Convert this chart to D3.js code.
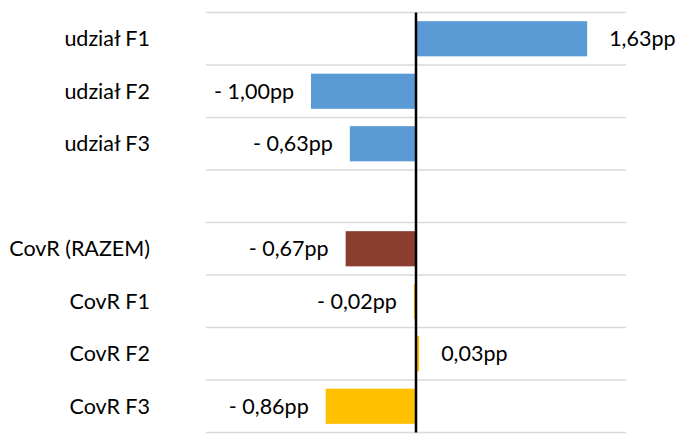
<!DOCTYPE html>
<html><head><meta charset="utf-8">
<script src="https://cdn.jsdelivr.net/npm/d3@7"></script>
<style>body{margin:0;background:#fff}svg{display:block}text{font-family:Lato,"Open Sans",sans-serif;fill:#000}</style>
</head><body>
<script>
const categories = ["udział F1","udział F2","udział F3","","CovR (RAZEM)","CovR F1","CovR F2","CovR F3"];
const values = [1.63,-1.00,-0.63,null,-0.67,-0.02,0.03,-0.86];
const labels = ["1,63pp","- 1,00pp","- 0,63pp","","- 0,67pp","- 0,02pp","0,03pp","- 0,86pp"];
const colors = ["#5B9BD5","#5B9BD5","#5B9BD5",null,"#8B3E2F","#FFC000","#FFC000","#FFC000"];

const W=678,H=434;
const svg=d3.select("body").append("svg").attr("width",W).attr("height",H);
const x=d3.scaleLinear().domain([-2,2]).range([206,626]);
const y=d3.scaleBand().domain(d3.range(categories.length)).range([12.5,432.5]).paddingInner(0.33).paddingOuter(0.165);
const band=d3.scaleBand().domain(d3.range(categories.length)).range([12.5,432.5]);

// gridlines
const gl=d3.range(categories.length+1).map(i=>12.5+i*band.step());
svg.selectAll("line.g").data(gl).enter().append("line")
 .attr("x1",206).attr("x2",626).attr("y1",d=>d).attr("y2",d=>d)
 .attr("stroke","#D9D9D9").attr("stroke-width",1.3);

const idx=d3.range(categories.length).filter(i=>values[i]!==null);
svg.selectAll("rect.b").data(idx).enter().append("rect")
 .attr("x",i=>x(Math.min(0,values[i]))).attr("width",i=>Math.abs(x(values[i])-x(0)))
 .attr("y",i=>y(i)).attr("height",y.bandwidth()).attr("fill",i=>colors[i]);

// zero axis
svg.append("line").attr("x1",x(0)).attr("x2",x(0)).attr("y1",12.5).attr("y2",432.5)
 .attr("stroke","#000").attr("stroke-width",2.5);

// category labels
svg.selectAll("text.c").data(d3.range(categories.length)).enter().append("text")
 .attr("x",150).attr("y",i=>band(i)+band.step()/2).attr("dy","0.35em")
 .attr("text-anchor","end").attr("font-size",21.5).text(i=>categories[i]);

// value labels
svg.selectAll("text.v").data(idx).enter().append("text")
 .attr("x",i=>values[i]>=0?x(values[i])+22:x(values[i])-17)
 .attr("y",i=>band(i)+band.step()/2).attr("dy","0.35em")
 .attr("text-anchor",i=>values[i]>=0?"start":"end").attr("font-size",21.5).text(i=>labels[i]);
</script>
</body></html>
